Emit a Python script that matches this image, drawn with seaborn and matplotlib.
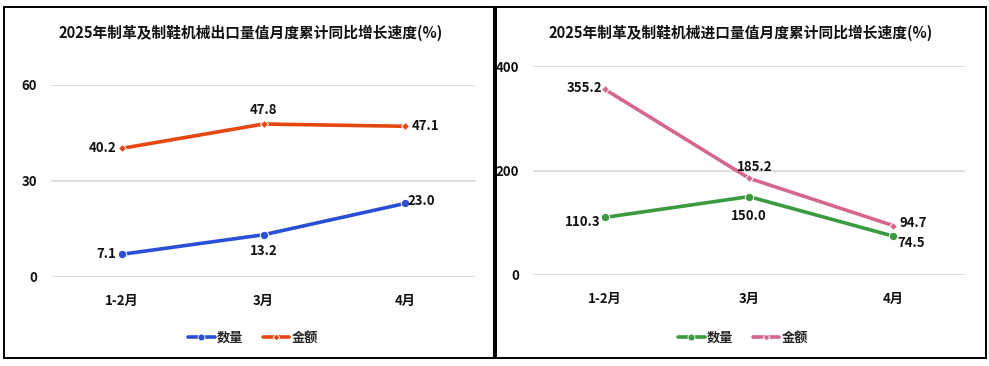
import pandas as pd
import seaborn as sns
import matplotlib.pyplot as plt
from matplotlib.patches import Rectangle
from matplotlib.lines import Line2D

# 数据
months = ['1-2月', '3月', '4月']
export_qty = [7.1, 13.2, 23.0]
export_amt = [40.2, 47.8, 47.1]
import_qty = [110.3, 150.0, 74.5]
import_amt = [355.2, 185.2, 94.7]

title_out = '2025年制革及制鞋机械出口量值月度累计同比增长速度(%)'
title_in = '2025年制革及制鞋机械进口量值月度累计同比增长速度(%)'

sns.set_theme(style='white')
plt.rcParams['font.family'] = ['Noto Sans CJK SC', 'DejaVu Sans']
plt.rcParams['font.weight'] = 'bold'

W, H = 989, 366
fig = plt.figure(figsize=(W / 100, H / 100), dpi=100)


def px_axes(x0, x1, y_top, y_bot):
    return fig.add_axes([x0 / W, (H - y_bot) / H, (x1 - x0) / W, (y_bot - y_top) / H])


def draw_panel(ax, qty, amt, c_qty, c_amt, ymax, step, label_pos, legend_x):
    df = pd.DataFrame({
        'month': months * 2,
        'value': qty + amt,
        'series': ['数量'] * 3 + ['金额'] * 3,
    })
    sns.lineplot(data=df, x='month', y='value', hue='series', style='series',
                 palette={'数量': c_qty, '金额': c_amt},
                 markers={'数量': 'o', '金额': 'D'}, dashes=False,
                 linewidth=2.6, sort=False, legend=False, ax=ax)
    # 标记大小分别调整
    for line, ms in zip(ax.lines, (6, 4)):
        line.set_markersize(ms)
        line.set_markeredgecolor('white')
        line.set_markeredgewidth(0.7)
    ax.set_xlim(-0.5, 2.5)
    ax.set_ylim(0, ymax)
    ax.set_yticks(range(0, ymax + 1, step))
    ax.grid(axis='y', color='#d9d9d9', linewidth=1.2)
    ax.set_axisbelow(True)
    for s in ax.spines.values():
        s.set_visible(False)
    ax.tick_params(axis='both', length=0, labelsize=9.5, colors='#111111')
    ax.tick_params(axis='y', pad=10)
    ax.tick_params(axis='x', pad=12)
    ax.set_xlabel('')
    ax.set_ylabel('')
    for lbl in ax.get_xticklabels() + ax.get_yticklabels():
        lbl.set_fontweight('bold')

    for vals, key in ((qty, 'q'), (amt, 'a')):
        for i, v in enumerate(vals):
            dx, dy, ha, va = label_pos[key][i]
            ax.annotate(f'{v:.1f}', (i, v), xytext=(dx, dy), textcoords='offset points',
                        ha=ha, va=va, fontsize=9.5, fontweight='bold', color='#111111')

    handles = [
        Line2D([], [], color=c_qty, lw=2.6, marker='o', markersize=5,
               markeredgecolor='white', markeredgewidth=0.6),
        Line2D([], [], color=c_amt, lw=2.6, marker='D', markersize=3.5,
               markeredgecolor='white', markeredgewidth=0.6),
    ]
    fig.legend(handles, ['数量', '金额'], loc='center', ncol=2,
               bbox_to_anchor=(legend_x / W, (H - 338) / H), frameon=False,
               handlelength=2.0, handletextpad=0.15, columnspacing=1.5,
               prop={'weight': 'bold', 'size': 9.5})
    return ax


# 左图：出口
ax1 = px_axes(51, 476, 85, 277)
left_pos = {
    'q': [(-4, 0, 'right', 'center'), (0, -7, 'center', 'top'), (2, 2, 'left', 'center')],
    'a': [(-4, 0, 'right', 'center'), (0, 5, 'center', 'bottom'), (5, 0, 'left', 'center')],
}
draw_panel(ax1, export_qty, export_amt, '#2a4fd6', '#e6470f', 60, 30, left_pos, 253)

# 右图：进口
ax2 = px_axes(533, 965, 66, 275)
right_pos = {
    'q': [(-3, -3, 'right', 'center'), (0, -9, 'center', 'top'), (3, -5, 'left', 'center')],
    'a': [(-2, 1, 'right', 'center'), (4, 3, 'center', 'bottom'), (5, 2, 'left', 'center')],
}
draw_panel(ax2, import_qty, import_amt, '#3a9a3f', '#d4668f', 400, 200, right_pos, 743)

# 标题
fig.text(251 / W, 1 - 33 / H, title_out, ha='center', va='center',
         fontsize=10.6, fontweight='bold', color='#111111')
fig.text(741 / W, 1 - 33 / H, title_in, ha='center', va='center',
         fontsize=10.6, fontweight='bold', color='#111111')

# 面板边框
for x0, x1 in ((4, 494), (496, 986)):
    fig.patches.append(Rectangle((x0 / W, 1 - 358 / H), (x1 - x0) / W, (358 - 7) / H,
                                 transform=fig.transFigure, fill=False,
                                 edgecolor='black', linewidth=1.4))

fig.savefig('out.png', dpi=100, facecolor='white')
